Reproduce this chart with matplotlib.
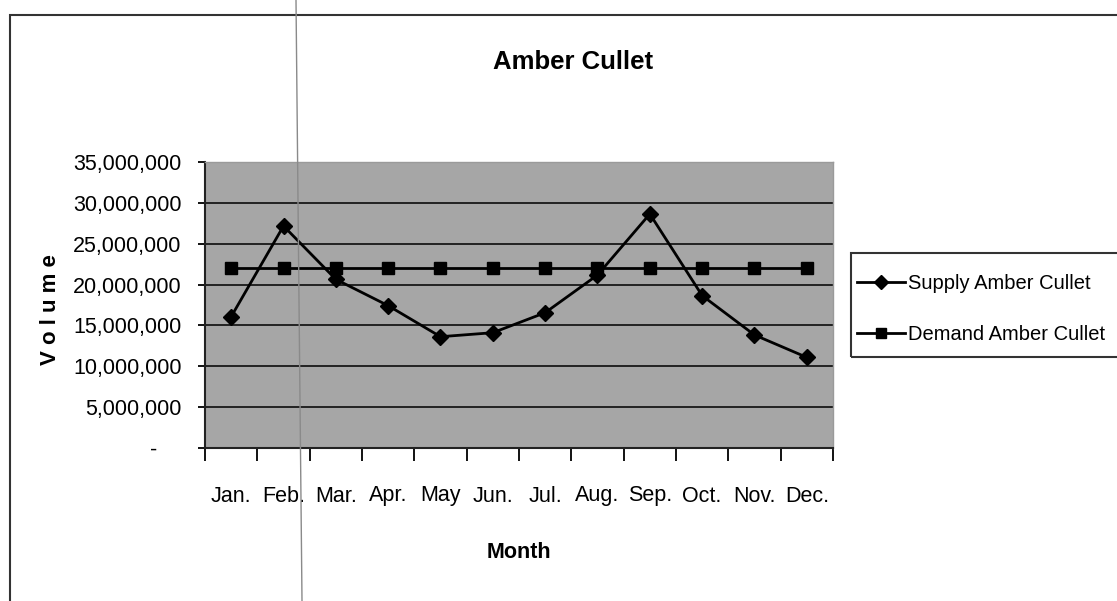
import matplotlib
matplotlib.use("Agg")
import matplotlib.pyplot as plt
from matplotlib.lines import Line2D
from matplotlib.patches import Rectangle
from matplotlib.ticker import FuncFormatter, MultipleLocator

# chart values
months = ["Jan.", "Feb.", "Mar.", "Apr.", "May", "Jun.", "Jul.", "Aug.", "Sep.", "Oct.", "Nov.", "Dec."]
supply = [16070000, 27170000, 20640000, 17420000, 13620000, 14110000,
          16560000, 21170000, 28640000, 18650000, 13830000, 11090000]
demand = [22070000] * 12

plt.rcParams["font.family"] = ["Liberation Sans", "DejaVu Sans"]

W, H = 1117, 601
fig = plt.figure(figsize=(W / 100, H / 100), dpi=100)
fig.patch.set_facecolor("white")

# plot area (pixel box of the reference)
left, right, top, bottom = 205, 833, 162, 448
ax = fig.add_axes([left / W, 1 - bottom / H, (right - left) / W, (bottom - top) / H])
ax.set_facecolor("#a6a6a6")

x = list(range(len(months)))
ax.plot(x, supply, color="black", lw=2, marker="D", ms=8, label="Supply Amber Cullet", zorder=3)
ax.plot(x, demand, color="black", lw=2, marker="s", ms=8, label="Demand Amber Cullet", zorder=3)

ax.set_ylim(0, 35000000)
ax.yaxis.set_major_locator(MultipleLocator(5000000))
ax.yaxis.set_major_formatter(FuncFormatter(lambda v, p: "-    " if v == 0 else f"{int(v):,}"))
ax.grid(axis="y", color="#222222", lw=1.4)
ax.set_axisbelow(True)

ax.set_xlim(-0.5, 11.5)
ax.set_xticks(x)
ax.set_xticklabels(months)
ax.set_xticks([i - 0.5 for i in range(13)], minor=True)
ax.tick_params(axis="x", which="major", length=0, pad=27, labelsize=15.5)
ax.tick_params(axis="x", which="minor", length=9, width=1.3, direction="out")
ax.tick_params(axis="y", length=5, width=1.3, pad=12, labelsize=15.5)

for s in ["left", "bottom"]:
    ax.spines[s].set_color("#222222")
    ax.spines[s].set_linewidth(1.5)
for s in ["top", "right"]:
    ax.spines[s].set_color("#9a9a9a")
    ax.spines[s].set_linewidth(1)

# titles
fig.text(573 / W, 1 - 62 / H, "Amber Cullet", ha="center", va="center", fontsize=18.5, fontweight="bold")
ax.text(0.5, -0.364, "Month", transform=ax.transAxes, ha="center", va="center", fontsize=15.5, fontweight="bold")
fig.text(50 / W, 1 - 310 / H, "V o l u m e", rotation=90, ha="center", va="center", fontsize=16, fontweight="bold")

# legend (frame drawn separately so it runs past the right edge like the scan)
ax.legend(loc="upper left", bbox_to_anchor=(857 / W, 1 - 274 / H), bbox_transform=fig.transFigure,
          fontsize=14.5, frameon=False, handlelength=2.4, handletextpad=0.15,
          labelspacing=1.6, borderpad=0, borderaxespad=0, markerscale=0.85)
fig.add_artist(Rectangle((851 / W, 1 - 357 / H), 0.3, (357 - 253) / H, transform=fig.transFigure,
                         fill=False, edgecolor="#333333", lw=1.5, clip_on=False))

# outer chart border and scan line
fig.add_artist(Rectangle((10 / W, -0.1), 1.2, 1 - 15 / H + 0.1, transform=fig.transFigure,
                         fill=False, edgecolor="#333333", lw=1.5, clip_on=False))
fig.add_artist(Line2D([296 / W, 302 / W], [1, 0], transform=fig.transFigure, color="#8a8a8a", lw=1))

fig.savefig("out.png", dpi=100)
